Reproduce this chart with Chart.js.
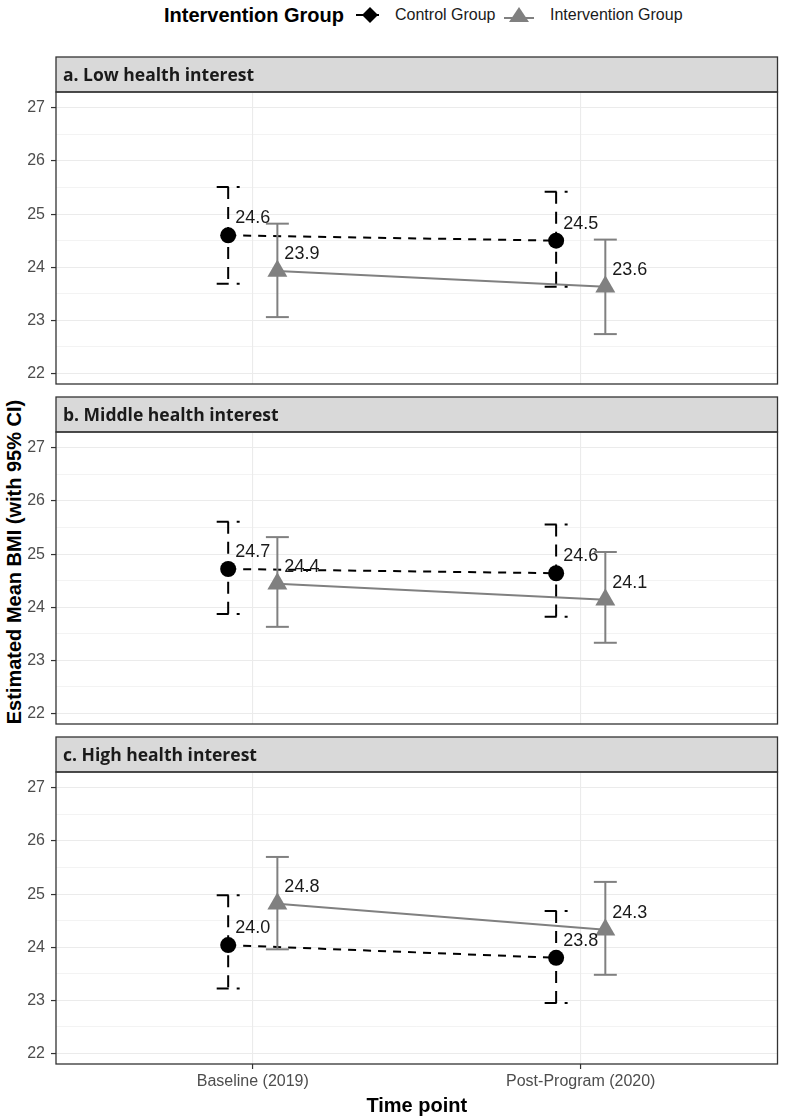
<!DOCTYPE html>
<html>
<head>
<meta charset="utf-8">
<script src="https://cdn.jsdelivr.net/npm/chart.js@4.4.1/dist/chart.umd.min.js"></script>
<style>
  body { margin: 0; background: #fff; width: 789px; height: 1119px; position: relative; overflow: hidden;
         font-family: "Liberation Sans", Arial, sans-serif; }
  canvas { position: absolute; left: 0; }
  #ytitle { position: absolute; left: 14px; top: 562px; transform: translate(-50%, -50%) rotate(-90deg);
            white-space: nowrap; font-weight: bold; font-size: 20px; color: #000; }
  .lg { position: absolute; top: 15px; transform: translateY(-50%); white-space: nowrap; }
</style>
</head>
<body>
<div class="lg" style="left:164px;font-weight:bold;font-size:20px;color:#000">Intervention Group</div>
<svg class="lg" style="left:354px" width="34" height="20">
  <line x1="2" y1="10" x2="32" y2="10" stroke="#000" stroke-width="2" stroke-dasharray="8 7"/>
  <polygon points="16,2 24,10 16,18 8,10" fill="#000"/>
</svg>
<div class="lg" style="left:395px;font-size:16px;color:#1a1a1a">Control Group</div>
<svg class="lg" style="left:502px" width="34" height="20">
  <line x1="2" y1="13" x2="32" y2="13" stroke="#808080" stroke-width="2"/>
  <polygon points="17,2 27,17 7,17" fill="#808080"/>
</svg>
<div class="lg" style="left:550px;font-size:16px;color:#1a1a1a">Intervention Group</div>
<div id="ytitle">Estimated Mean BMI (with 95% CI)</div>

<canvas id="pa" width="789" height="360" style="top:40px"></canvas>
<canvas id="pb" width="789" height="360" style="top:380px"></canvas>
<canvas id="pc" width="789" height="399" style="top:720px"></canvas>

<script>
// categories and panels
var timeLabels = ['Baseline (2019)', 'Post-Program (2020)'];
var panelTitles = ['a. Low health interest', 'b. Middle health interest', 'c. High health interest'];

// estimated means and 95% CI, one row per panel, [baseline, post]
var controlMean = [[24.60, 24.50], [24.72, 24.64], [24.04, 23.80]];
var controlLow  = [[23.69, 23.63], [23.87, 23.82], [23.22, 22.95]];
var controlHigh = [[25.51, 25.42], [25.61, 25.56], [24.98, 24.68]];

var interMean = [[23.93, 23.63], [24.44, 24.14], [24.82, 24.33]];
var interLow  = [[23.06, 22.74], [23.63, 23.33], [23.96, 23.48]];
var interHigh = [[24.82, 24.52], [25.32, 25.04], [25.70, 25.23]];

// y grid (major on integers, minor on halves)
var yTicks = [22, 22.5, 23, 23.5, 24, 24.5, 25, 25.5, 26, 26.5, 27];

var FONT = '"Liberation Sans", Arial, sans-serif';
var dodge = 0.075;
var capW = 0.07;

var panelDeco = {
  id: 'panelDeco',
  afterDraw: function(chart, args, opts) {
    var ctx = chart.ctx, a = chart.chartArea;
    ctx.save();
    ctx.fillStyle = '#d9d9d9';
    ctx.fillRect(a.left, a.top - 35, a.right - a.left, 35);
    ctx.strokeStyle = '#333';
    ctx.lineWidth = 1.3;
    ctx.strokeRect(a.left, a.top - 35, a.right - a.left, 35);
    ctx.strokeRect(a.left, a.top, a.right - a.left, a.bottom - a.top);
    ctx.fillStyle = '#1a1a1a';
    ctx.font = 'bold 17.5px "Open Sans", sans-serif';
    ctx.textBaseline = 'middle';
    ctx.fillText(opts.title, a.left + 7, a.top - 16);
    ctx.restore();
  }
};

// error bars + value labels
var errorBars = {
  id: 'errorBars',
  afterDatasetsDraw: function(chart) {
    var ctx = chart.ctx, xs = chart.scales.x, ys = chart.scales.y;
    function seg(x0, y0, x1, y1) {
      ctx.beginPath(); ctx.moveTo(x0, y0); ctx.lineTo(x1, y1); ctx.stroke();
    }
    chart.data.datasets.forEach(function(ds) {
      ctx.save();
      ctx.strokeStyle = ds.borderColor;
      ctx.lineWidth = 2;
      ctx.setLineDash(ds.ciDash);
      ds.data.forEach(function(p, j) {
        var xc = xs.getPixelForValue(p.x);
        var x0 = xs.getPixelForValue(p.x - capW / 2), x1 = xs.getPixelForValue(p.x + capW / 2);
        var yl = ys.getPixelForValue(ds.ciLow[j]), yh = ys.getPixelForValue(ds.ciHigh[j]);
        seg(x0, yh, x1, yh);
        seg(xc, yh, xc, yl);
        seg(x0, yl, x1, yl);
      });
      ctx.restore();
    });
    chart.data.datasets.forEach(function(ds, i) {
      var meta = chart.getDatasetMeta(i);
      ctx.save();
      ctx.fillStyle = '#1a1a1a';
      ctx.font = '18px ' + FONT;
      ctx.textBaseline = 'middle';
      meta.data.forEach(function(el, j) {
        ctx.fillText(ds.data[j].y.toFixed(1), el.x + 7, el.y - 17);
      });
      ctx.restore();
    });
  }
};

function makePanel(id, k, isLast) {
  var ctrlData = [0, 1].map(function(j) { return {x: j + 1 - dodge, y: controlMean[k][j]}; });
  var intData = [0, 1].map(function(j) { return {x: j + 1 + dodge, y: interMean[k][j]}; });
  return new Chart(document.getElementById(id), {
    type: 'line',
    data: {
      datasets: [
        {
          label: 'Control Group',
          data: ctrlData,
          ciLow: controlLow[k], ciHigh: controlHigh[k], ciDash: [12, 8],
          borderColor: '#000', backgroundColor: '#000',
          borderWidth: 2, borderDash: [8, 7],
          pointStyle: 'circle', pointRadius: 8, pointBorderWidth: 0
        },
        {
          label: 'Intervention Group',
          data: intData,
          ciLow: interLow[k], ciHigh: interHigh[k], ciDash: [],
          borderColor: '#808080', backgroundColor: '#808080',
          borderWidth: 2,
          pointStyle: 'triangle', pointRadius: 11.5, pointBorderWidth: 0
        }
      ]
    },
    options: {
      responsive: false,
      animation: false,
      events: [],
      layout: { padding: { top: 52, right: 3, bottom: isLast ? 0 : 16, left: 0 } },
      plugins: {
        legend: { display: false },
        tooltip: { enabled: false },
        panelDeco: { title: panelTitles[k] }
      },
      scales: {
        x: {
          type: 'linear', min: 0.4, max: 2.6,
          afterBuildTicks: function(s) { s.ticks = [{value: 1}, {value: 2}]; },
          afterFit: function(s) { s.height = isLast ? 55 : 0; },
          ticks: {
            display: isLast, autoSkip: false, maxRotation: 0, padding: 3,
            font: { size: 16, family: FONT }, color: '#4d4d4d',
            callback: function(v) { return timeLabels[Math.round(v) - 1]; }
          },
          grid: { color: '#ebebeb', lineWidth: 1.1, drawTicks: isLast, tickLength: 5, tickColor: '#333', tickWidth: 1.2 },
          border: { display: false },
          title: {
            display: isLast, text: 'Time point', color: '#000',
            font: { size: 20, weight: 'bold', family: FONT }, padding: { top: 0, bottom: 1 }
          }
        },
        y: {
          type: 'linear', min: 21.8, max: 27.3,
          afterBuildTicks: function(s) { s.ticks = yTicks.map(function(v) { return {value: v}; }); },
          afterFit: function(s) { s.width = 56; },
          ticks: {
            autoSkip: false, padding: 6,
            font: { size: 16, family: FONT }, color: '#4d4d4d',
            callback: function(v) { return Number.isInteger(v) ? String(v) : ''; }
          },
          grid: {
            color: '#ebebeb',
            lineWidth: function(c) { return c.tick && Number.isInteger(c.tick.value) ? 1.1 : 0.6; },
            tickLength: 5,
            tickColor: function(c) { return c.tick && Number.isInteger(c.tick.value) ? '#333' : 'rgba(0,0,0,0)'; },
            tickWidth: 1.2
          },
          border: { display: false }
        }
      }
    },
    plugins: [panelDeco, errorBars]
  });
}

makePanel('pa', 0, false);
makePanel('pb', 1, false);
makePanel('pc', 2, true);
</script>
</body>
</html>
